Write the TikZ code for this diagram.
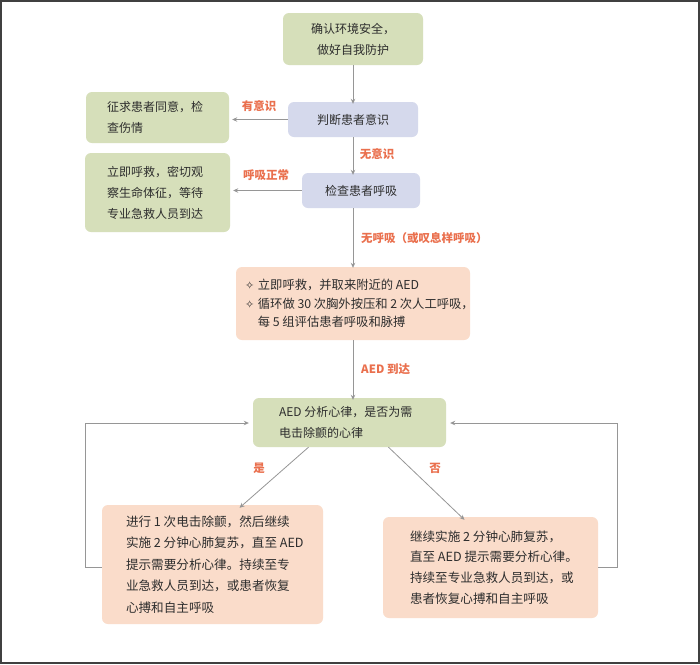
\documentclass[tikz,border=0pt]{standalone}
\usepackage{fontspec}
\setmainfont{Noto Sans CJK SC}
\newfontfamily\symfont{DejaVu Sans}
\usetikzlibrary{arrows.meta,calc}
\definecolor{boxgreen}{RGB}{214,223,186}
\definecolor{boxblue}{RGB}{213,217,236}
\definecolor{boxpeach}{RGB}{250,220,202}
\definecolor{lblcol}{RGB}{234,112,78}
\definecolor{txtcol}{RGB}{45,45,45}
\definecolor{arrcol}{RGB}{150,150,150}
\newcommand\ts{\nobreak\hspace{0.22em}\nobreak}
\newcommand\bul{{\symfont\fontsize{11}{18.5}\selectfont ✧}\nobreak\hspace{0.3em}\nobreak}
\tikzset{
  x=1pt,y=-1pt,
  basebox/.style={rounded corners=6pt,draw=none,text=txtcol,font=\fontsize{12}{21}\selectfont,inner ysep=0pt},
  gbox/.style={basebox,fill=boxgreen},
  bbox/.style={basebox,fill=boxblue},
  pbox/.style={basebox,fill=boxpeach},
  lbl/.style={text=lblcol,font=\fontsize{11.5}{14}\selectfont\bfseries,inner sep=1pt},
  arr/.style={draw=arrcol,line width=0.8pt,-{Stealth[length=5pt,width=4.5pt]}}
}
\begin{document}
\begin{tikzpicture}
\useasboundingbox (0,0) rectangle (700,664);
\fill[white] (0,0) rectangle (700,664);
\draw[draw=black!75,line width=1.2pt] (1,1) rectangle (699,663);

\node[gbox,minimum width=140pt,minimum height=52pt,align=center] (b1) at (353,39) {确认环境安全，\\做好自我防护};
\node[bbox,minimum width=130pt,minimum height=35pt] (b2) at (353,119.5) {判断患者意识};
\node[gbox,minimum width=143pt,minimum height=51pt,text width=101pt,inner xsep=21pt,align=left] (b3) at (157.5,117.5) {征求患者同意，检\\查伤情};
\node[bbox,minimum width=118pt,minimum height=35pt] (b4) at (361,190.5) {检查患者呼吸};
\node[gbox,minimum width=145pt,minimum height=79pt,text width=101pt,inner xsep=22pt,align=left] (b5) at (157.5,192.5) {立即呼救，密切观\\察生命体征，等待\\专业急救人员到达};
\node[pbox,minimum width=234pt,minimum height=73pt,text width=216pt,inner xsep=9pt,align=left,font=\fontsize{12.3}{18.5}\selectfont] (b6) at (353,303.5) {\bul 立即呼救，并取来附近的\ts AED\\\bul 循环做\ts 30\ts 次胸外按压和\ts 2\ts 次人工呼吸，\\\phantom{\bul}每\ts 5\ts 组评估患者呼吸和脉搏};
\node[gbox,minimum width=193pt,minimum height=49pt,text width=141pt,inner xsep=26pt,align=left] (b7) at (349.5,422.5) {AED\ts 分析心律，是否为需\\电击除颤的心律};
\node[pbox,minimum width=221pt,minimum height=119pt,text width=173pt,inner xsep=24pt,align=left,font=\fontsize{12.6}{21.5}\selectfont] (b8) at (212.5,564.5) {进行\ts 1\ts 次电击除颤，然后继续\\实施\ts 2\ts 分钟心肺复苏，直至\ts AED\\提示需要分析心律。持续至专\\业急救人员到达，或患者恢复\\心搏和自主呼吸};
\node[pbox,minimum width=215pt,minimum height=101pt,text width=161pt,inner xsep=27pt,align=left,font=\fontsize{12.6}{20.7}\selectfont] (b9) at (490.5,567.5) {继续实施\ts 2\ts 分钟心肺复苏，\\直至\ts AED\ts 提示需要分析心律。\\持续至专业急救人员到达，或\\患者恢复心搏和自主呼吸};

\draw[arr] (b1.south) -- ([yshift=-2pt]b2.north);
\draw[arr] (b2.west) -- ([xshift=3pt]b2.west -| b3.east);
\draw[arr] (b2.south) -- ([yshift=-2pt]b4.north -| b2.south);
\draw[arr] (b4.west) -- ([xshift=3pt]b4.west -| b5.east);
\draw[arr] (b4.south -| b2.south) -- ([yshift=-1pt]b6.north);
\draw[arr] (b6.south) -- ([yshift=-2pt]b6.south |- b7.north);
\draw[arr] ([xshift=-41pt]b7.south) -- ([xshift=27pt,yshift=-3pt]b8.north);
\draw[arr] ([xshift=39pt]b7.south) -- ([xshift=-26pt,yshift=-3pt]b9.north);
\coordinate (lc1) at (85,567);
\coordinate (lc2) at (85,423);
\coordinate (rc1) at (617,567);
\coordinate (rc2) at (617,423);
\draw[arr] (b8.west |- lc1) -- (lc1) -- (lc2) -- ([xshift=-4pt]b7.west |- lc2);
\draw[arr] (b9.east |- rc1) -- (rc1) -- (rc2) -- ([xshift=4pt]b7.east |- rc2);

\node[lbl] (l1) at (259,106) {有意识};
\node[lbl] (l2) at (377,154) {无意识};
\node[lbl] (l3) at (266,175) {呼吸正常};
\node[lbl,anchor=west] (l4) at (360,238) {无呼吸（或叹息样呼吸）};
\node[lbl,anchor=west] (l5) at (360,369) {AED 到达};
\node[lbl] (l6) at (259,468) {是};
\node[lbl] (l7) at (435,468) {否};
\end{tikzpicture}
\end{document}
